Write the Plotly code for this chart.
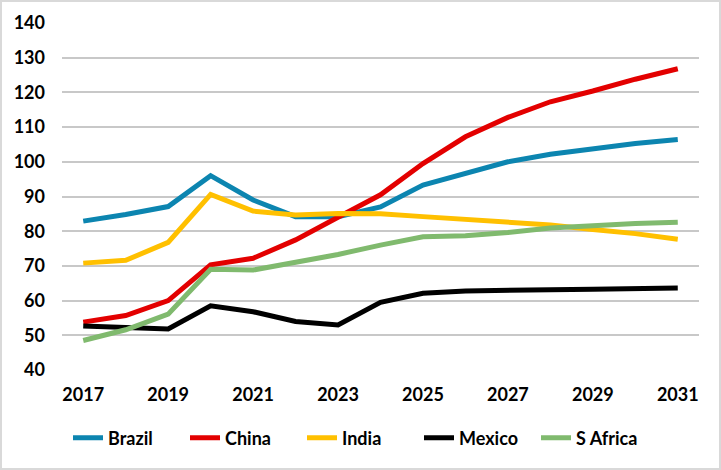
import plotly.graph_objects as go

years = list(range(2017, 2032))
brazil = [82.9, 84.8, 87.1, 96.0, 89.0, 84.2, 84.2, 87.0, 93.3, 96.8, 100.0, 102.2, 103.9, 105.3, 106.4]
china = [53.8, 55.7, 60.0, 70.3, 72.2, 77.5, 84.0, 90.5, 99.5, 107.2, 112.8, 117.3, 120.4, 123.8, 126.8]
india = [70.8, 71.6, 76.8, 90.6, 85.8, 84.7, 85.1, 85.0, 84.2, 83.5, 82.7, 81.8, 80.5, 79.3, 77.7]
mexico = [52.7, 52.3, 51.8, 58.5, 56.8, 54.0, 53.0, 59.5, 62.1, 62.8, 63.1, 63.1, 63.3, 63.3, 63.6]
safrica = [48.5, 51.6, 56.1, 69.0, 68.8, 70.9, 73.3, 76.0, 78.4, 78.7, 79.6, 80.9, 81.7, 82.2, 82.6]

series = [
    ("Brazil", brazil, "#0C85B0"),
    ("China", china, "#E30000"),
    ("India", india, "#FFC000"),
    ("Mexico", mexico, "#000000"),
    ("S Africa", safrica, "#80BA6E"),
]

fig = go.Figure()
for name, vals, col in series:
    fig.add_trace(go.Scatter(x=years, y=vals, name=name, mode="lines",
                             line=dict(color=col, width=5)))

FAM = "Lato, Open Sans, sans-serif"
font = dict(family=FAM, size=18, color="#000000")

W, H = 721, 470
L, R, T, B = 62, 22, 23, 100
pw, ph = W - L - R, H - T - B

fig.update_layout(
    width=W, height=H,
    margin=dict(l=L, r=R, t=T, b=B, autoexpand=False),
    paper_bgcolor="white", plot_bgcolor="white",
    font=font,
    showlegend=True,
    legend=dict(orientation="h", xref="container", yref="container",
                x=0.5, xanchor="center", y=1 - 438 / H, yanchor="middle",
                font=dict(family=FAM, size=18, color="#000000", weight="bold"),
                entrywidth=72, entrywidthmode="pixels", tracegroupgap=0),
    xaxis=dict(range=[2016.5, 2031.5], tickmode="array", tickvals=list(range(2017, 2032, 2)),
               showgrid=False, zeroline=False, showline=False, ticks="",
               tickfont=dict(weight="bold", size=18), ticklabelstandoff=12),
    yaxis=dict(range=[40, 140], dtick=10, showgrid=True, gridcolor="#C8C8C8", gridwidth=1.5,
               zeroline=False, showline=False, ticks="",
               tickfont=dict(weight="bold", size=18), ticklabelstandoff=16),
    shapes=[dict(type="rect", xref="paper", yref="paper",
                 x0=(1 - L) / pw, x1=(W - 1 - L) / pw,
                 y0=(T + ph - (H - 1)) / ph, y1=(T + ph - 1) / ph,
                 line=dict(color="#D9D9D9", width=2), layer="above")],
)

fig.write_html("out.html", config={"displayModeBar": False},
               post_script="document.body.style.margin='0';")
